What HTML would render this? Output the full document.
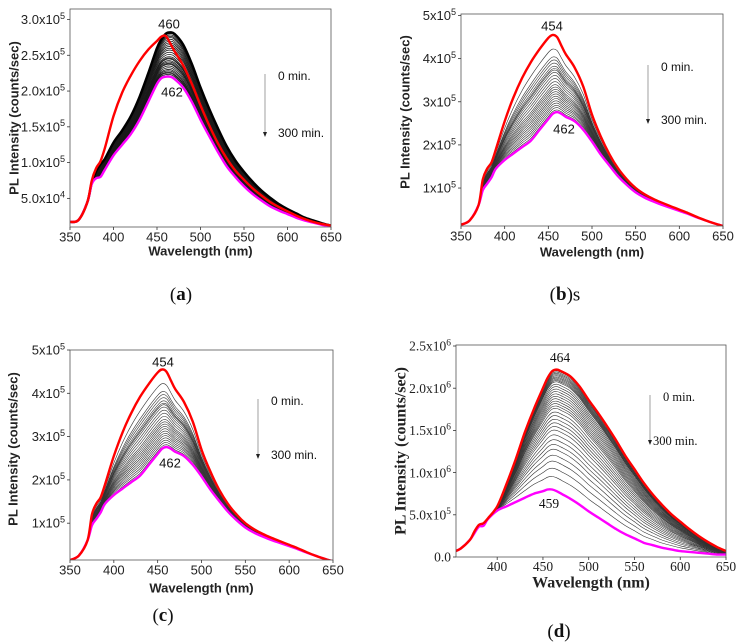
<!DOCTYPE html>
<html><head><meta charset="utf-8"><style>
html,body{margin:0;padding:0;background:#fff;}
svg{display:block;}
</style></head><body>
<svg id="fig" width="746" height="642" viewBox="0 0 746 642" xmlns="http://www.w3.org/2000/svg"></svg>
<script>
// ---------- DATA ----------
const wl = [350,360,370,375,380,385,390,400,410,420,430,440,450,455,460,465,470,480,490,500,510,520,530,540,550,560,570,580,590,600,610,620,630,640,650];
// panel (a) – units 1e5 counts/sec
const aRed  = [0.17,0.2,0.45,0.75,0.92,1.02,1.2,1.65,1.98,2.22,2.42,2.58,2.7,2.76,2.77,2.67,2.56,2.36,2.1,1.8,1.52,1.27,1.06,0.89,0.76,0.64,0.54,0.45,0.38,0.32,0.26,0.21,0.17,0.14,0.12];
const aTop  = [0.17,0.2,0.45,0.72,0.88,0.98,1.05,1.28,1.45,1.65,1.92,2.25,2.6,2.72,2.8,2.82,2.8,2.65,2.38,2.05,1.75,1.48,1.23,1.03,0.87,0.73,0.61,0.51,0.42,0.35,0.29,0.23,0.19,0.15,0.12];
const aMag  = [0.17,0.2,0.45,0.7,0.78,0.8,0.9,1.1,1.25,1.4,1.6,1.85,2.1,2.18,2.2,2.2,2.17,2.05,1.85,1.6,1.37,1.15,0.95,0.8,0.67,0.56,0.47,0.39,0.33,0.28,0.23,0.19,0.16,0.13,0.11];
const aLevels = [0.02,0.05,0.08,0.1,0.13,0.16,0.2,0.24,0.28,0.3,0.33,0.36,0.4,0.42,0.45,0.5,0.55,0.6,0.64,0.68,0.72,0.76,0.8,0.84,0.88,0.91,0.94,0.97];
// panels (b) and (c) – units 1e5
const bRed  = [0.15,0.25,0.6,1.2,1.45,1.6,1.9,2.55,3.1,3.55,3.92,4.22,4.48,4.55,4.5,4.3,4.1,3.8,3.35,2.7,2.2,1.78,1.45,1.2,1.0,0.86,0.75,0.66,0.58,0.5,0.42,0.33,0.25,0.18,0.12];
const bMag  = [0.15,0.25,0.6,0.95,1.1,1.25,1.45,1.65,1.8,1.95,2.1,2.35,2.6,2.72,2.76,2.72,2.65,2.55,2.35,2.08,1.78,1.52,1.27,1.07,0.9,0.78,0.69,0.61,0.54,0.47,0.4,0.32,0.25,0.18,0.12];
const bLevels = [0.03,0.06,0.09,0.12,0.15,0.18,0.21,0.24,0.27,0.3,0.33,0.36,0.4,0.44,0.48,0.52,0.55,0.57,0.6,0.64,0.68,0.72,0.82];
// panel (d) – units 1e6
const dRed  = [0.05,0.1,0.2,0.3,0.38,0.4,0.46,0.6,0.86,1.15,1.47,1.75,2.0,2.12,2.2,2.22,2.2,2.14,2.02,1.86,1.71,1.55,1.38,1.2,1.04,0.88,0.74,0.62,0.51,0.42,0.33,0.25,0.18,0.12,0.07];
const dMag  = [0.05,0.1,0.2,0.28,0.36,0.37,0.45,0.55,0.6,0.65,0.7,0.75,0.78,0.8,0.8,0.78,0.75,0.69,0.62,0.54,0.47,0.4,0.33,0.27,0.22,0.17,0.14,0.11,0.09,0.07,0.06,0.05,0.04,0.03,0.03];
const dLevels = [0.11,0.18,0.24,0.29,0.34,0.38,0.42,0.46,0.5,0.53,0.56,0.59,0.62,0.65,0.68,0.7,0.72,0.74,0.76,0.78,0.8,0.82,0.84,0.86,0.88,0.9,0.91,0.92,0.93,0.94,0.95,0.96,0.97,0.98,0.99];
const xTicks = [350,400,450,500,550,600,650];
const dXTicks = [400,450,500,550,600,650];
const abYTicks = [0.5,1.0,1.5,2.0,2.5,3.0];
const abYLabels = ["5.0x10","1.0x10","1.5x10","2.0x10","2.5x10","3.0x10"];
const abYExp = ["4","5","5","5","5","5"];
const bcYTicks = [1,2,3,4,5];
const bcYLabels = ["1x10","2x10","3x10","4x10","5x10"];
const dYTicks = [0,0.5,1.0,1.5,2.0,2.5];
const dYLabels = ["0.0","5.0x10","1.0x10","1.5x10","2.0x10","2.5x10"];
const dYExp = ["","5","6","6","6","6"];

// ---------- DRAW ----------
const NS="http://www.w3.org/2000/svg";
const svg=document.getElementById('fig');
function mk(tag,attrs,parent){const e=document.createElementNS(NS,tag);for(const k in attrs)e.setAttribute(k,attrs[k]);(parent||svg).appendChild(e);return e;}
function smooth(pts){
  let d='M'+pts[0][0].toFixed(1)+','+pts[0][1].toFixed(1);
  for(let i=0;i<pts.length-1;i++){
    const p0=pts[Math.max(0,i-1)],p1=pts[i],p2=pts[i+1],p3=pts[Math.min(pts.length-1,i+2)];
    const c1=[p1[0]+(p2[0]-p0[0])/6,p1[1]+(p2[1]-p0[1])/6];
    const c2=[p2[0]-(p3[0]-p1[0])/6,p2[1]-(p3[1]-p1[1])/6];
    d+='C'+c1[0].toFixed(1)+','+c1[1].toFixed(1)+' '+c2[0].toFixed(1)+','+c2[1].toFixed(1)+' '+p2[0].toFixed(1)+','+p2[1].toFixed(1);
  }
  return d;
}

function panel(cfg){
  const g=mk('g',{});
  
  
  const X=v=>cfg.L+(v-cfg.xmin)/(cfg.xmax-cfg.xmin)*(cfg.R-cfg.L);
  const Y=v=>cfg.yB-(v-cfg.ymin)/(cfg.y1v-cfg.ymin)*(cfg.yB-cfg.y1);
  const clip='clip'+cfg.id;
  const cp=mk('clipPath',{id:clip},g);
  mk('rect',{x:cfg.L,y:cfg.T,width:cfg.R-cfg.L,height:cfg.yB-cfg.T},cp);
  const plot=mk('g',{'clip-path':'url(#'+clip+')'},g);
  function path(arr,stroke,w,name){
    const pts=[];
    for(let i=0;i<wl.length;i++){ if(wl[i]<cfg.xmin-10) continue; pts.push([X(wl[i]),Y(arr[i])]);}
    const p=mk('path',{d:smooth(pts),fill:'none',stroke:stroke,'stroke-width':w,'stroke-linejoin':'round'},plot);
    
    
  }
  cfg.levels.forEach((f,k)=>{
    const arr=cfg.mag.map((m,i)=>m+f*(cfg.top[i]-m));
    path(arr,cfg.grayColor,cfg.grayW,'intermediate-spectrum');
  });
  if(cfg.thickTop) path(cfg.top,'#000',2.5,'black-top-spectrum');
  path(cfg.mag,'#ff00ff',2.4,'final-spectrum-300min');
  path(cfg.red,'#ff0000',2.4,'initial-spectrum-0min');
  const fr=mk('rect',{x:cfg.L,y:cfg.T,width:cfg.R-cfg.L,height:cfg.yB-cfg.T,fill:'none',stroke:'#555','stroke-width':0.8},g);
  
  
  const ff=cfg.serif?'"Liberation Serif", serif':'"Liberation Sans", sans-serif';
  cfg.xticks.forEach(v=>{
    mk('line',{x1:X(v),x2:X(v),y1:cfg.yB,y2:cfg.yB+3,stroke:'#333','stroke-width':0.8},g);
    const t=mk('text',{x:X(v),y:cfg.xLabY,'text-anchor':'middle','dominant-baseline':'middle','font-family':ff,'font-size':cfg.tickFs,fill:'#222'},g);
    t.textContent=v;
    
    
  });
  cfg.yticks.forEach((v,i)=>{
    mk('line',{x1:cfg.L-3,x2:cfg.L,y1:Y(v),y2:Y(v),stroke:'#333','stroke-width':0.8},g);
    const t=mk('text',{x:cfg.L-5,y:Y(v)+cfg.tickFs*0.35,'text-anchor':'end','font-family':ff,'font-size':cfg.tickFs,fill:'#222'},g);
    
    
    t.appendChild(document.createTextNode(cfg.ylabels[i]));
    const e=cfg.yexp[i];
    if(e){const s=mk('tspan',{dy:-cfg.tickFs*0.4,'font-size':cfg.tickFs*0.7},t);s.textContent=e;}
  });
  const xt=mk('text',{x:(cfg.L+cfg.R)/2,y:cfg.xTitY,'text-anchor':'middle','dominant-baseline':'middle','font-family':ff,'font-weight':'bold','font-size':cfg.titFs,fill:'#222'},g);
  xt.textContent='Wavelength (nm)';
  
  
  const yt=mk('text',{x:0,y:0,transform:'translate('+cfg.yTitX+','+cfg.yTitY+') rotate(-90)','text-anchor':'middle','dominant-baseline':'middle','font-family':ff,'font-weight':'bold','font-size':cfg.titFs,fill:'#222'},g);
  yt.textContent='PL Intensity (counts/sec)';
  
  
  function txt(x,y,s,name){
    const t=mk('text',{x:x,y:y,'text-anchor':'middle','dominant-baseline':'middle','font-family':ff,'font-size':cfg.tickFs,fill:'#111'},g);
    t.textContent=s;
    
    
  }
  txt(cfg.pk1[0],cfg.pk1[1],cfg.pk1[2],'peak-label-initial');
  txt(cfg.pk2[0],cfg.pk2[1],cfg.pk2[2],'peak-label-final');
  const ar=mk('line',{x1:cfg.arX,x2:cfg.arX,y1:cfg.arY1,y2:cfg.arY2-4,stroke:'#888','stroke-width':0.8},g);
  
  
  mk('polygon',{points:(cfg.arX-2)+','+(cfg.arY2-5)+' '+(cfg.arX+2)+','+(cfg.arY2-5)+' '+cfg.arX+','+cfg.arY2,fill:'#222'},g);
  const t0=mk('text',{x:cfg.arX+13,y:cfg.arY1+3,'dominant-baseline':'middle','font-family':ff,'font-size':cfg.tickFs-1,fill:'#111'},g);
  t0.textContent='0 min.';
  
  
  const t1=mk('text',{x:cfg.arX+(cfg.serif?3:13),y:cfg.arY2-3,'dominant-baseline':'middle','font-family':ff,'font-size':cfg.tickFs-1,fill:'#111'},g);
  t1.textContent='300 min.';
  
  
  const cap=mk('text',{x:cfg.cap[0],y:cfg.cap[1],'text-anchor':'middle','dominant-baseline':'middle','font-family':'"Liberation Serif", serif','font-size':19,fill:'#111'},g);
  
  
  cap.appendChild(document.createTextNode('('));
  const b=mk('tspan',{'font-weight':'bold'},cap); b.textContent=cfg.id;
  cap.appendChild(document.createTextNode(')'+(cfg.capSuffix||'')));
}

panel({id:'a',L:70,R:331,T:9,yB:227,xmin:350,xmax:650,ymin:0.1,y1v:3.0,y1:19.5,
  red:aRed,top:aTop,mag:aMag,levels:aLevels,grayColor:'#1a1a1a',grayW:0.8,thickTop:true,
  xticks:xTicks,yticks:abYTicks,ylabels:abYLabels,yexp:abYExp,tickFs:13,titFs:13,
  xLabY:238,xTitY:252,yTitX:15,yTitY:118,pk1:[169,25,'460'],pk2:[172,93,'462'],
  arX:265,arY1:74,arY2:137,cap:[181,296]});
panel({id:'b',L:461,R:723,T:14,yB:226,xmin:350,xmax:650,ymin:0.12,y1v:5,y1:15.5,
  red:bRed,top:bRed,mag:bMag,levels:bLevels,grayColor:'#333',grayW:0.6,
  xticks:xTicks,yticks:bcYTicks,ylabels:bcYLabels,yexp:["5","5","5","5","5"],tickFs:13,titFs:13,
  xLabY:237,xTitY:253,yTitX:406,yTitY:112,pk1:[552,27,'454'],pk2:[564,130,'462'],
  arX:648,arY1:65,arY2:124,cap:[565,296],capSuffix:'s'});
panel({id:'c',L:70,R:333,T:350,yB:560,xmin:350,xmax:650,ymin:0.15,y1v:5,y1:350,
  red:bRed,top:bRed,mag:bMag,levels:bLevels,grayColor:'#333',grayW:0.6,
  xticks:xTicks,yticks:bcYTicks,ylabels:bcYLabels,yexp:["5","5","5","5","5"],tickFs:13,titFs:13,
  xLabY:571,xTitY:589,yTitX:14,yTitY:449,pk1:[163,363,'454'],pk2:[170,464,'462'],
  arX:258,arY1:399,arY2:459,cap:[163,617]});
panel({id:'d',L:456,R:726,T:345,yB:557,xmin:355,xmax:650,ymin:0,y1v:2.5,y1:346,serif:true,
  red:dRed,top:dRed,mag:dMag,levels:dLevels,grayColor:'#333',grayW:0.6,
  xticks:dXTicks,yticks:dYTicks,ylabels:dYLabels,yexp:dYExp,tickFs:13.5,titFs:16,
  xLabY:568,xTitY:584,yTitX:402,yTitY:451,pk1:[560,359,'464'],pk2:[549,505,'459'],
  arX:650,arY1:395,arY2:445,cap:[559,633]});
</script>
</body></html>
